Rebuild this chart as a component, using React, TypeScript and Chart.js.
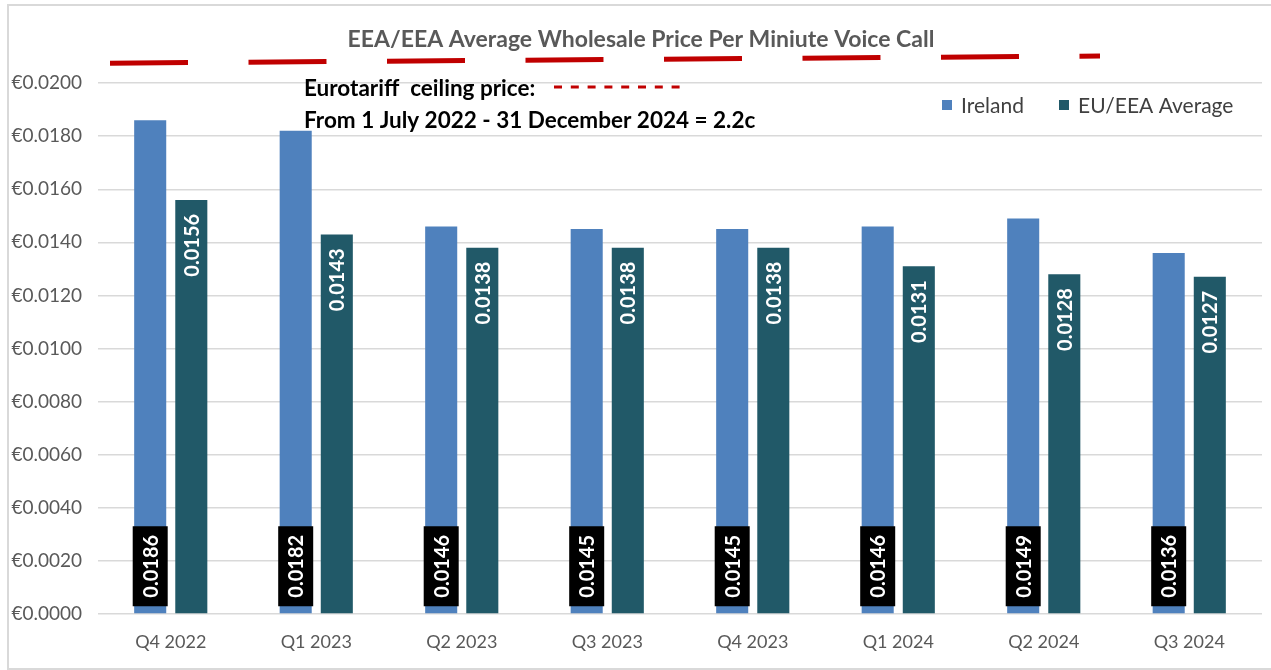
import React, { useEffect, useRef } from 'react';
import { Chart, registerables } from 'chart.js';

Chart.register(...registerables);

const categories = ['Q4 2022', 'Q1 2023', 'Q2 2023', 'Q3 2023', 'Q4 2023', 'Q1 2024', 'Q2 2024', 'Q3 2024'];
const irelandValues = [0.0186, 0.0182, 0.0146, 0.0145, 0.0145, 0.0146, 0.0149, 0.0136];
const euAverageValues = [0.0156, 0.0143, 0.0138, 0.0138, 0.0138, 0.0131, 0.0128, 0.0127];
const seriesNames = ['Ireland', 'EU/EEA Average'];
const yMax = 0.022;
const yStep = 0.002;
const titleText = 'EEA/EEA Average Wholesale Price Per Miniute Voice Call';
const noteLine1 = 'Eurotariff  ceiling price:';
const noteLine2 = 'From 1 July 2022 - 31 December 2024 = 2.2c';

const FONT = 'Lato, "Open Sans", sans-serif';
const IRELAND_COLOR = '#4F81BD';
const EU_COLOR = '#215968';

const decorPlugin = {
  id: 'decor',
  beforeDraw(chart: any) {
    const ctx = chart.ctx;
    ctx.save();
    ctx.fillStyle = '#ffffff';
    ctx.fillRect(0, 0, chart.width, chart.height);
    ctx.strokeStyle = '#D9D9D9';
    ctx.lineWidth = 2;
    ctx.strokeRect(8, 5, chart.width + 20, chart.height - 6);
    ctx.restore();
  },
  afterDatasetsDraw(chart: any) {
    const ctx = chart.ctx;
    const yScale = chart.scales.y;
    ctx.save();

    // Ireland labels: black boxes at the bottom
    const m0 = chart.getDatasetMeta(0);
    m0.data.forEach((bar: any, i: number) => {
      const bottom = bar.base - 7;
      const h = 80;
      const w = 35;
      ctx.fillStyle = '#000000';
      ctx.fillRect(bar.x - w / 2, bottom - h, w, h);
      ctx.save();
      ctx.translate(bar.x, bottom - h / 2);
      ctx.rotate(-Math.PI / 2);
      ctx.fillStyle = '#ffffff';
      ctx.font = `bold 20px ${FONT}`;
      ctx.textAlign = 'center';
      ctx.textBaseline = 'middle';
      ctx.fillText(irelandValues[i].toFixed(4), 0, 1);
      ctx.restore();
    });

    // EU labels: inside the top of the bar
    const m1 = chart.getDatasetMeta(1);
    m1.data.forEach((bar: any, i: number) => {
      ctx.save();
      ctx.translate(bar.x, bar.y + 14);
      ctx.rotate(-Math.PI / 2);
      ctx.fillStyle = '#ffffff';
      ctx.font = `bold 20px ${FONT}`;
      ctx.textAlign = 'right';
      ctx.textBaseline = 'middle';
      ctx.fillText(euAverageValues[i].toFixed(4), 0, 1);
      ctx.restore();
    });

    // decorative red dashed ceiling line
    ctx.strokeStyle = '#C00000';
    ctx.lineWidth = 5;
    ctx.setLineDash([78, 60.5]);
    ctx.beginPath();
    ctx.moveTo(110, yScale.getPixelForValue(0.02075));
    ctx.lineTo(1100, yScale.getPixelForValue(0.02102));
    ctx.stroke();
    ctx.setLineDash([]);

    // title
    ctx.fillStyle = '#595959';
    ctx.font = `bold 23px ${FONT}`;
    ctx.textAlign = 'center';
    ctx.textBaseline = 'middle';
    ctx.fillText(titleText, 641, 40);

    // notes
    ctx.fillStyle = '#000000';
    ctx.font = `bold 22.5px ${FONT}`;
    ctx.textAlign = 'left';
    ctx.fillText(noteLine1, 304, 89);
    ctx.fillText(noteLine2, 304, 121);

    ctx.strokeStyle = '#C00000';
    ctx.lineWidth = 3;
    ctx.setLineDash([8, 8.8]);
    ctx.beginPath();
    ctx.moveTo(554, 87);
    ctx.lineTo(683, 87);
    ctx.stroke();
    ctx.setLineDash([]);

    // legend
    ctx.font = `21px ${FONT}`;
    ctx.fillStyle = IRELAND_COLOR;
    ctx.fillRect(942, 100, 10, 10);
    ctx.fillStyle = EU_COLOR;
    ctx.fillRect(1059, 100, 10, 10);
    ctx.fillStyle = '#404040';
    ctx.textBaseline = 'middle';
    ctx.fillText(seriesNames[0], 961, 106);
    ctx.fillText(seriesNames[1], 1078, 106);

    ctx.restore();
  },
};

export default function App() {
  const ref = useRef<HTMLCanvasElement>(null);
  useEffect(() => {
    if (!ref.current) return;
    const chart = new Chart(ref.current, {
      type: 'bar',
      data: {
        labels: categories,
        datasets: [
          {
            label: seriesNames[0],
            data: irelandValues,
            backgroundColor: IRELAND_COLOR,
            borderWidth: 0,
            barPercentage: 0.78,
            categoryPercentage: 0.565,
          },
          {
            label: seriesNames[1],
            data: euAverageValues,
            backgroundColor: EU_COLOR,
            borderWidth: 0,
            barPercentage: 0.78,
            categoryPercentage: 0.565,
          },
        ],
      },
      options: {
        animation: false,
        responsive: false,
        devicePixelRatio: 1,
        layout: { padding: { top: 30, right: 9, bottom: 0, left: 0 } },
        plugins: { legend: { display: false }, tooltip: { enabled: false } },
        scales: {
          x: {
            grid: { display: false, drawTicks: false },
            border: { display: false },
            ticks: { color: '#595959', font: { family: FONT, size: 18 }, padding: 17 },
            afterFit: (s: any) => { s.height = 56; },
          },
          y: {
            min: 0,
            max: yMax,
            grid: {
              drawTicks: false,
              lineWidth: 1.5,
              color: (c: any) => (c.tick && c.tick.value > yMax - yStep / 2 ? 'rgba(0,0,0,0)' : '#D9D9D9'),
            },
            border: { display: false },
            ticks: {
              stepSize: yStep,
              color: '#595959',
              font: { family: FONT, size: 19 },
              padding: 16,
              callback: (v: any) => (Number(v) > yMax - yStep / 2 ? '' : '€' + Number(v).toFixed(4)),
            },
            afterFit: (s: any) => { s.width = 98; },
          },
        },
      },
      plugins: [decorPlugin],
    });
    return () => chart.destroy();
  }, []);
  return (
    <div style={{ position: 'absolute', left: 0, top: 0, width: 1271, height: 670 }}>
      <canvas ref={ref} width={1271} height={670} style={{ width: 1271, height: 670 }} />
    </div>
  );
}
